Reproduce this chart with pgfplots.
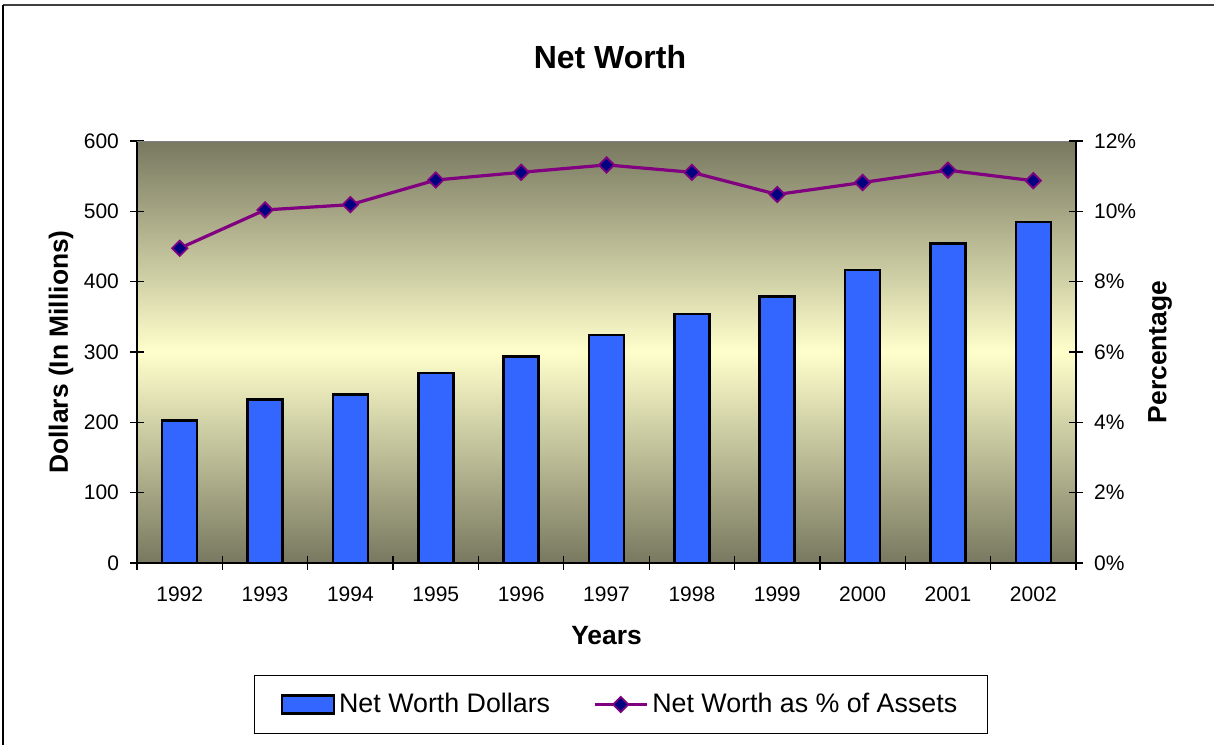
\documentclass[border=0pt]{standalone}
\usepackage{pgfplots}
\pgfplotsset{compat=1.18}
\usepackage{fontspec}
\setmainfont{Liberation Sans}
\definecolor{bgdark}{RGB}{120,120,96}
\definecolor{bglight}{RGB}{255,255,204}
\definecolor{barblue}{RGB}{51,102,255}
\definecolor{linepurple}{RGB}{128,0,128}
\definecolor{marknavy}{RGB}{0,0,128}
\pgfplotsset{
  linelegend/.style={legend image code/.code={\draw[mark repeat=2, mark phase=2, ##1] plot coordinates {(0pt,0pt) (13pt,0pt) (26pt,0pt)};}},
  barlegend/.style={legend image code/.code={\draw[fill=barblue, draw=black, line width=1.2pt] (0pt,-4.5pt) rectangle (26pt,4.5pt);}},
}
\begin{document}
\begin{tikzpicture}
\useasboundingbox (0,0) rectangle (607pt,372.5pt);
\draw[color={rgb,255:red,64;green,64;blue,64}, line width=1pt] (1.5pt,370pt) -- (607pt,370pt);
\draw[black, line width=1pt] (1.5pt,370pt) -- (1.5pt,0pt);
\pgfplotsset{
  common/.style={
    at={(68.5pt,91pt)}, anchor=south west,
    scale only axis, width=469.5pt, height=211pt,
    xmin=-0.5, xmax=10.5,
    tick align=center, major tick length=7pt, minor tick length=7pt,
    tick style={black, line width=0.6pt},
    ticklabel style={font=\fontsize{10.5}{12}\selectfont},
    /pgf/number format/assume math mode=true,
    label style={font=\bfseries\fontsize{13.2}{15}\selectfont},
  }
}
\begin{axis}[common,
  axis background/.style={top color=bgdark, bottom color=bgdark, middle color=bglight},
  axis x line*=bottom, axis y line*=left,
  axis line style={black, line width=1pt, -},
  ymin=0, ymax=600, ytick={0,100,...,600},
  xtick={0,...,10},
  xticklabels={1992,1993,1994,1995,1996,1997,1998,1999,2000,2001,2002},
  major x tick style={draw=none},
  minor xtick={-0.5,0.5,...,10.5},
  xticklabel style={yshift=-5pt},
  yticklabel style={xshift=-2pt},
  xlabel={Years}, xlabel style={at={(axis description cs:0.5,-0.172)}, anchor=center},
  ylabel={Dollars (In Millions)}, ylabel style={at={(axis description cs:-0.081,0.5)}, anchor=center},
  title={Net Worth},
  title style={at={(axis description cs:0.5037,1.1706)}, anchor=center, font=\bfseries\fontsize{16}{19}\selectfont},
]
\draw[color={rgb,255:red,128;green,128;blue,128}, line width=0.8pt] (rel axis cs:0,1) -- (rel axis cs:1,1);
\addplot[ybar, bar width=17.5pt, fill=barblue, draw=black, line width=1.3pt]
  coordinates {(0,203) (1,232.5) (2,240) (3,270) (4,294) (5,324.4) (6,354) (7,379) (8,416.5) (9,454.5) (10,485)};
\end{axis}
\begin{axis}[common,
  axis x line=none, axis y line*=right,
  axis line style={black, line width=1pt, -},
  ymin=0, ymax=12, ytick={0,2,...,12},
  yticklabel={\pgfmathprintnumber{\tick}\%},
  yticklabel style={xshift=2pt},
  ylabel={Percentage}, ylabel style={at={(axis description cs:1.0895,0.5)}, anchor=center, rotate=0},
  legend style={at={(axis description cs:0.5154,-0.3353)}, anchor=center, draw=black, line width=0.6pt,
    font=\fontsize{13.4}{15}\selectfont, inner xsep=13pt, inner ysep=7pt,
    /tikz/every even column/.append style={column sep=19.5pt}},
  legend columns=2, legend cell align=left,
]
\addlegendimage{barlegend}
\addlegendentry{Net Worth Dollars}
\addplot[color=linepurple, line width=1.6pt, mark=square*, mark size=2.7pt,
  mark options={rotate=45, fill=marknavy, draw=linepurple, line width=0.9pt}, linelegend]
  coordinates {(0,8.95) (1,10.04) (2,10.19) (3,10.89) (4,11.11) (5,11.32) (6,11.11) (7,10.48) (8,10.82) (9,11.17) (10,10.87)};
\addlegendentry{Net Worth as \% of Assets}
\end{axis}
\end{tikzpicture}
\end{document}
